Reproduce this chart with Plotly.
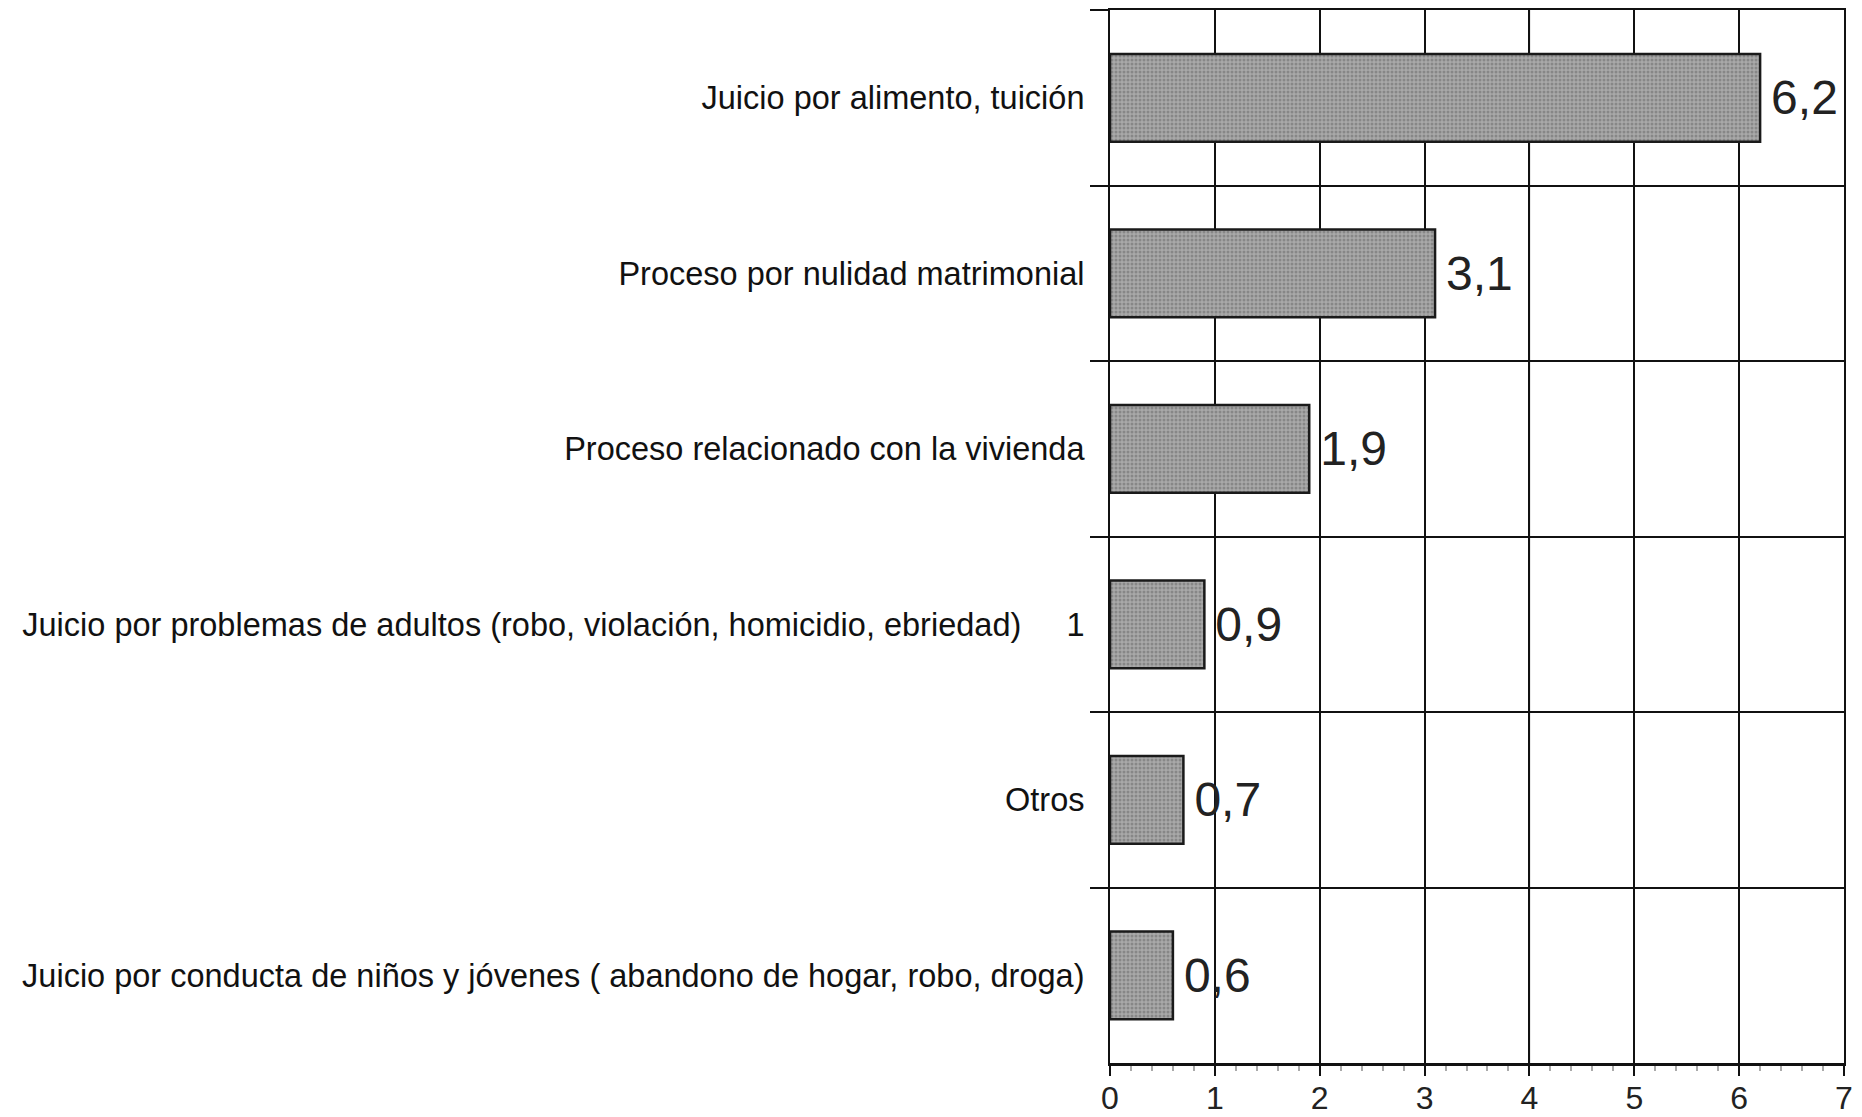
import plotly.graph_objects as go

# categorías de arriba hacia abajo
categorias = [
    "Juicio por alimento, tuición",
    "Proceso por nulidad matrimonial",
    "Proceso relacionado con la vivienda",
    "Juicio por problemas de adultos (robo, violación, homicidio, ebriedad)     1",
    "Otros",
    "Juicio por conducta de niños y jóvenes ( abandono de hogar, robo, droga)",
]
valores = [6.2, 3.1, 1.9, 0.9, 0.7, 0.6]
x_ticks = [0, 1, 2, 3, 4, 5, 6, 7]

FONT = "Liberation Sans, Arial, sans-serif"

fig = go.Figure()

fig.add_trace(go.Bar(
    y=categorias, x=valores, orientation='h',
    width=0.5,
    marker=dict(
        color='#a2a2a2',
        line=dict(color='#1a1a1a', width=2.5),
        pattern=dict(shape='.', fgcolor='#666666', bgcolor='#a9a9a9',
                     size=4, solidity=0.45),
    ),
    texttemplate='\u2006%{x:.1f}', textposition='outside',
    textfont=dict(family=FONT, size=48, color='#222'),
    cliponaxis=False,
))

# linea de 4 más clara, como en el original
fig.add_shape(type='line', xref='x', yref='paper', x0=4, x1=4, y0=0, y1=1,
              line=dict(color='#8c8c8c', width=1.5), layer='below')

# la página tiene 8px de margen en el body, se compensa aquí
fig.update_layout(
    width=1854, height=1109,
    margin=dict(l=1102, r=18, t=2, b=54),
    plot_bgcolor='white', paper_bgcolor='white',
    separators=',.',
    showlegend=False,
    bargap=0.5,
)

fig.update_xaxes(
    range=[0, 7], tickvals=x_ticks, automargin=False,
    showgrid=True, gridcolor='#111', gridwidth=1.5,
    showline=True, linecolor='#111', linewidth=2.5, mirror=True,
    ticks='outside', ticklen=10, tickcolor='#111', tickwidth=1.5,
    minor=dict(dtick=0.2, ticks='outside', ticklen=5, tickcolor='#aaa', showgrid=False),
    tickfont=dict(family=FONT, size=32, color='#222'),
    ticklabelstandoff=-5,
    zeroline=False,
)

fig.update_yaxes(
    categoryorder='array', categoryarray=categorias, autorange='reversed',
    automargin=False,
    tickson='boundaries', showgrid=True, gridcolor='#111', gridwidth=1.5,
    showline=True, linecolor='#111', linewidth=2, mirror=True,
    ticks='outside', ticklen=18, tickcolor='#111', tickwidth=1.5,
    tickfont=dict(family=FONT, size=32.5, color='#111'),
    ticklabelstandoff=17,
)

fig.write_html("out.html")
